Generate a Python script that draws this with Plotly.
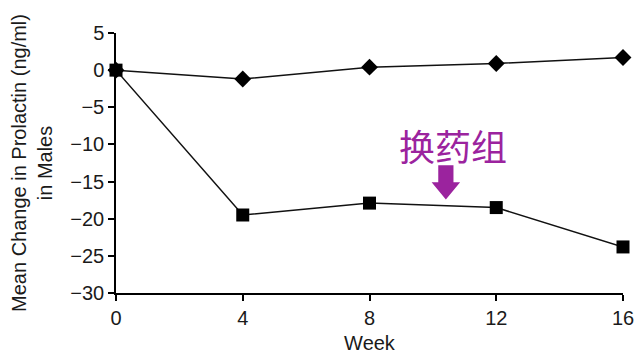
import plotly.graph_objects as go

# Study weeks and mean change in prolactin (ng/ml) in males
weeks = [0, 4, 8, 12, 16]
group_diamond = [0.0, -1.2, 0.4, 0.9, 1.7]
group_square = [0.0, -19.5, -17.9, -18.5, -23.8]
x_ticks = [0, 4, 8, 12, 16]
y_ticks = [5, 0, -5, -10, -15, -20, -25, -30]

label_text = "换药组"
purple = "#9b239e"
font_main = "Liberation Sans, Arial, sans-serif"
ink = "#1a1a1a"

fig = go.Figure()

fig.add_trace(go.Scatter(
    x=weeks, y=group_diamond, mode="lines+markers",
    line=dict(color="#111111", width=1.5),
    marker=dict(symbol="diamond", size=13, color="black"),
    cliponaxis=False, showlegend=False,
))
fig.add_trace(go.Scatter(
    x=weeks, y=group_square, mode="lines+markers",
    line=dict(color="#111111", width=1.5),
    marker=dict(symbol="square", size=13, color="black"),
    cliponaxis=False, showlegend=False,
))

# Label and block arrow pointing at the switched group's line
ax_c, shaft_half, head_half = 10.41, 0.24, 0.45
y_top, y_neck, y_tip = -12.8, -15.1, -17.4
arrow_path = (
    f"M {ax_c - shaft_half},{y_top} L {ax_c + shaft_half},{y_top} "
    f"L {ax_c + shaft_half},{y_neck} L {ax_c + head_half},{y_neck} "
    f"L {ax_c},{y_tip} L {ax_c - head_half},{y_neck} "
    f"L {ax_c - shaft_half},{y_neck} Z"
)
fig.add_shape(type="path", path=arrow_path, xref="x", yref="y",
              fillcolor=purple, line=dict(width=0))
fig.add_annotation(x=10.62, y=-10.1, xref="x", yref="y", text=label_text,
                   showarrow=False,
                   font=dict(family="Noto Sans CJK SC", size=36, color=purple))

axis_common = dict(
    showline=True, linecolor="black", linewidth=1.5,
    ticks="outside", ticklen=6, tickwidth=1.5, tickcolor="black",
    showgrid=False, zeroline=False, automargin=False,
    tickfont=dict(family=font_main, size=20, color=ink),
)

fig.update_layout(
    width=635, height=354,
    margin=dict(l=116, r=12, t=33, b=61),
    paper_bgcolor="white", plot_bgcolor="white",
    xaxis=dict(range=[0, 16], tickvals=x_ticks,
               title=dict(text="Week", standoff=13,
                          font=dict(family=font_main, size=20, color=ink)),
               **axis_common),
    yaxis=dict(range=[-30, 5], tickvals=y_ticks,
               title=dict(text="Mean Change in Prolactin (ng/ml)<br>in Males",
                          standoff=12,
                          font=dict(family=font_main, size=20, color=ink)),
               **axis_common),
)

fig.write_html("out.html")
